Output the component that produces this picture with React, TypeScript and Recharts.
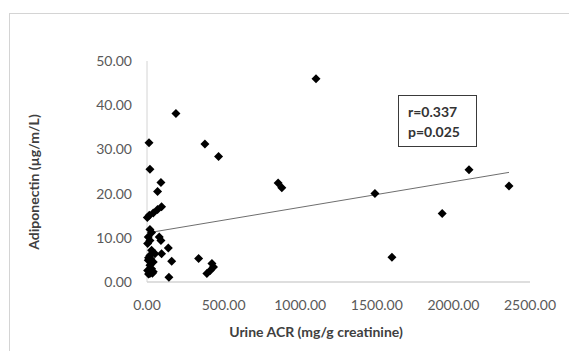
import { ScatterChart, Scatter, XAxis, YAxis } from "recharts";

// Urine ACR (mg/g creatinine) vs adiponectin
const acr = [
  95, 69, 41, 15, 2, 19, 30, 8, 80, 91, 19, 4, 139, 30, 95, 52, 19, 8, 161, 41,
  19, 30, 4, 41, 19, 143, 10, 25, 35, 10,
  13, 19, 91, 69, 189, 378, 467, 856, 880, 1103, 1488, 2102, 2363, 1927, 1599,
  337, 424, 434, 413, 391,
];
const adiponectin = [
  17.0, 16.4, 15.6, 15.1, 14.6, 11.9, 11.2, 10.2, 10.2, 9.4, 9.4, 8.7, 7.7, 7.2, 6.4, 6.4, 6.0, 4.9, 4.7, 4.5,
  3.8, 3.0, 2.6, 2.3, 1.9, 1.1, 5.5, 5.2, 2.0, 1.8,
  31.5, 25.5, 22.5, 20.5, 38.1, 31.2, 28.4, 22.4, 21.3, 46.0, 20.0, 25.4, 21.7, 15.5, 5.6,
  5.3, 4.2, 3.4, 2.6, 1.9,
];

// linear trendline endpoints
const trendX = [2, 2363];
const trendY = [11.1, 24.8];

const xTicks = [0, 500, 1000, 1500, 2000, 2500];
const yTicks = [0, 10, 20, 30, 40, 50];

const rValue = "r=0.337";
const pValue = "p=0.025";

const points = acr.map((x, i) => ({ x, y: adiponectin[i] }));
const trend = trendX.map((x, i) => ({ x, y: trendY[i] }));

const FONT = "Lato, 'Open Sans', sans-serif";

const Diamond = (props: any) => {
  const { cx, cy } = props;
  const r = 4.5;
  return (
    <polygon
      points={`${cx},${cy - r} ${cx + r},${cy} ${cx},${cy + r} ${cx - r},${cy}`}
      fill="#000"
    />
  );
};

export default function App() {
  return (
    <div style={{ position: "absolute", left: 0, top: 0, width: 569, height: 351, background: "#fff", overflow: "hidden" }}>
      <div
        style={{
          position: "absolute",
          left: 9,
          top: 13,
          width: 600,
          height: 400,
          borderLeft: "1px solid #d4d4d4",
          borderTop: "1px solid #d4d4d4",
        }}
      />
      <ScatterChart width={569} height={351} margin={{ top: 61, right: 39, bottom: 21, left: 87 }}>
        <XAxis
          type="number"
          dataKey="x"
          domain={[0, 2500]}
          ticks={xTicks}
          tickFormatter={(v: number) => v.toFixed(2)}
          tickLine={false}
          tickMargin={12}
          height={48}
          stroke="#bdbdbd"
          tick={{ fill: "#595959", fontSize: 14, fontFamily: FONT }}
          label={{
            content: () => (
              <text x={316} y={337} textAnchor="middle" fill="#404040" fontSize={14} fontWeight={700} fontFamily={FONT}>
                Urine ACR (mg/g creatinine)
              </text>
            ),
          }}
        />
        <YAxis
          type="number"
          dataKey="y"
          domain={[0, 50]}
          ticks={yTicks}
          tickFormatter={(v: number) => v.toFixed(2)}
          tickLine={false}
          tickMargin={9}
          width={60}
          stroke="#d4d4d4"
          tick={{ fill: "#595959", fontSize: 14, fontFamily: FONT }}
          label={{
            content: () => (
              <text
                x={39}
                y={182}
                transform="rotate(-90 39 182)"
                textAnchor="middle"
                fill="#404040"
                fontSize={14}
                fontWeight={700}
                fontFamily={FONT}
              >
                Adiponectin (µg/m/L)
              </text>
            ),
          }}
        />
        <Scatter data={trend} line={{ stroke: "#6e6e6e", strokeWidth: 1 }} shape={() => <g />} isAnimationActive={false} />
        <Scatter data={points} shape={Diamond} isAnimationActive={false} />
      </ScatterChart>
      <div
        style={{
          position: "absolute",
          left: 398,
          top: 95,
          width: 79,
          height: 52,
          border: "1.5px solid #3a3a3a",
          fontFamily: FONT,
          fontWeight: 700,
          fontSize: 14,
          color: "#333",
          lineHeight: "20px",
          paddingLeft: 9,
          paddingTop: 6,
          boxSizing: "border-box",
        }}
      >
        <div>{rValue}</div>
        <div>{pValue}</div>
      </div>
    </div>
  );
}
